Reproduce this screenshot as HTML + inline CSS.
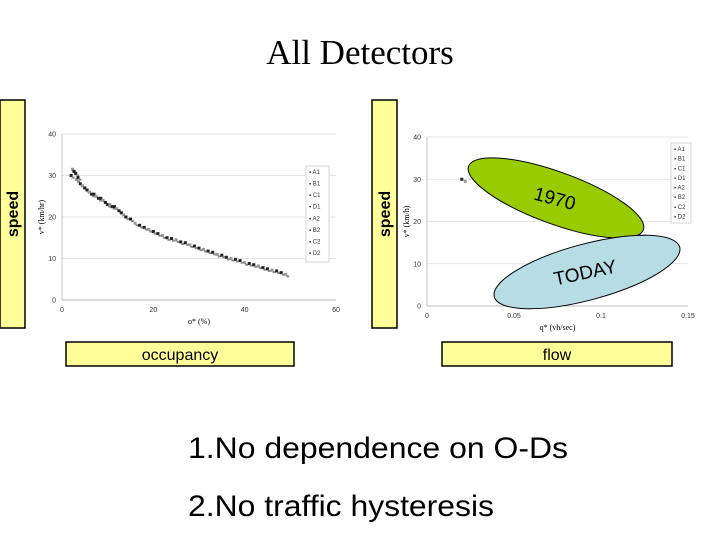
<!DOCTYPE html>
<html><head><meta charset="utf-8"><style>
body{margin:0;background:#fff;}
svg{display:block;font-family:"Liberation Sans",sans-serif;}
</style></head><body>
<svg id="s" width="720" height="540" viewBox="0 0 720 540">
<text x="360" y="64" text-anchor="middle" font-family="Liberation Serif" font-size="35">All Detectors</text>

<g>
<rect x="0" y="100" width="25" height="228" fill="#ffff99" stroke="#000" stroke-width="1.5"/>
<text transform="translate(18,214) rotate(-90)" text-anchor="middle" font-size="16" font-weight="bold">speed</text></g>
<g>
<rect x="372" y="100" width="25" height="228" fill="#ffff99" stroke="#000" stroke-width="1.5"/>
<text transform="translate(390,214) rotate(-90)" text-anchor="middle" font-size="16" font-weight="bold">speed</text></g>
<g>
<rect x="66" y="342" width="228" height="24" fill="#ffff99" stroke="#000" stroke-width="1.5"/>
<text x="180" y="360" text-anchor="middle" font-size="16">occupancy</text></g>
<g>
<rect x="442" y="342" width="230" height="24" fill="#ffff99" stroke="#000" stroke-width="1.5"/>
<text x="557" y="360" text-anchor="middle" font-size="16">flow</text></g>

<g id="left"></g>
<g id="right"></g>

<text x="188" y="458" font-size="30" textLength="380" lengthAdjust="spacingAndGlyphs">1.No dependence on O-Ds</text>
<text x="188" y="516" font-size="30" textLength="306" lengthAdjust="spacingAndGlyphs">2.No traffic hysteresis</text>
</svg>
<script>
const leftOcc=[2,2.3,2.6,3,3.2,3.5,4,4.5,5,5.5,6,6.5,7,7.5,8,8.5,9,9.5,10,10.5,11,11.5,12,12.5,13,13.5,14,15,16,17,18,19,20,21,22,23,24,25,26,27,28,29,30,31,32,33,34,35,36,37,38,39,40,41,42,43,44,45,46,47,48,49];
const leftSpd=[30,31.5,31,30.5,29,29.5,28,27.5,27,26.5,26,25.5,25.5,25,24.5,24.5,24,23.5,23,23,22.5,22.5,22,21.5,21,20.5,20,19.5,18.5,18,17.5,17,16.5,16,15.5,15,14.8,14.5,14,13.8,13.3,13,12.5,12.2,11.8,11.5,11,10.8,10.3,10,9.8,9.5,9,8.8,8.5,8.2,7.8,7.5,7.2,7,6.6,6.2];
const leftXTicks=[0,20,40,60];
const leftYTicks=[0,10,20,30,40];
const rightFlow=[0.02,0.022,0.118,0.12,0.122,0.124,0.125,0.127,0.128,0.13,0.132,0.134,0.136];
const rightSpd=[30,29.5,17,16.5,16.8,16,16.5,15.8,16.2,15.5,15.8,15.2,15];
const rightXTicks=[0,0.05,0.1,0.15];
const rightYTicks=[0,10,20,30,40];
const legendNames=["A1","B1","C1","D1","A2","B2","C2","D2"];
const NS="http://www.w3.org/2000/svg";
function mk(p,t,a){const e=document.createElementNS(NS,t);for(const k in a)e.setAttribute(k,a[k]);p.appendChild(e);return e;}

function chart(g,o){
  const xs=v=>o.x0+(v-o.xmin)/(o.xmax-o.xmin)*(o.x1-o.x0);
  const ys=v=>o.y0-(v)/(40)*(o.y0-o.y1);
  o.yt.forEach(t=>{
    const l=mk(g,'line',{x1:o.x0,x2:o.x1,y1:ys(t),y2:ys(t),stroke:'#ddd','stroke-width':0.7});
    
    
    const tx=mk(g,'text',{x:o.x0-6,y:ys(t)+2.5,'text-anchor':'end','font-size':7,fill:'#333'});tx.textContent=t;
    
    
  });
  o.xt.forEach(t=>{
    const tx=mk(g,'text',{x:xs(t),y:o.y0+12,'text-anchor':'middle','font-size':7,fill:'#333'});tx.textContent=t;
    
    
  });
  mk(g,'line',{x1:o.x0,x2:o.x0,y1:o.y1,y2:o.y0,stroke:'#aaa','stroke-width':0.7});
  mk(g,'line',{x1:o.x0,x2:o.x1,y1:o.y0,y2:o.y0,stroke:'#aaa','stroke-width':0.7});
  const xl=mk(g,'text',{x:(o.x0+o.x1)/2,y:o.y0+24,'text-anchor':'middle','font-size':8,'font-family':'Liberation Serif'});xl.textContent=o.xl;
  
  
  const yl=mk(g,'text',{transform:`translate(${o.x0-18},${(o.y0+o.y1)/2}) rotate(-90)`,'text-anchor':'middle','font-size':8,'font-family':'Liberation Serif'});yl.textContent=o.yl;
  
  
  o.xs.forEach((v,i)=>{
    const p=mk(g,'rect',{x:xs(v)-1.5,y:ys(o.ys[i])-1.5,width:3,height:3,fill:i%3==1?'#999':'#222'});
    
    
    if(o.dense){const p2=mk(g,'rect',{x:xs(v)+0.5,y:ys(o.ys[i]-0.5)-1,width:3,height:2,fill:'#888'});
    
    }
  });
  const lg=mk(g,'g',{});
  
  
  mk(lg,'rect',{x:o.lx,y:o.ly,width:o.lw,height:o.lh,fill:'#fff',stroke:'#bbb','stroke-width':0.6});
  legendNames.forEach((n,i)=>{
    const t=mk(lg,'text',{x:o.lx+3,y:o.ly+8+i*o.lh/8.3,'font-size':6,fill:'#333'});t.textContent='▪ '+n;
    
    
  });
}
chart(document.getElementById('left'),{x0:62,x1:336,y0:300,y1:134,xmin:0,xmax:60,xt:leftXTicks,yt:leftYTicks,xs:leftOcc,ys:leftSpd,xl:'o* (%)',yl:'v* (km/hr)',lx:306,ly:166,lw:23,lh:96,dense:true});
chart(document.getElementById('right'),{x0:427,x1:688,y0:306,y1:137,xmin:0,xmax:0.15,xt:rightXTicks,yt:rightYTicks,xs:rightFlow,ys:rightSpd,xl:'q* (vh/sec)',yl:'v* (km/h)',lx:671,ly:143,lw:20,lh:80,dense:false});
const R=document.getElementById('right');
const e1=mk(R,'ellipse',{cx:556,cy:198,rx:93,ry:26,transform:'rotate(20 556 198)',fill:'#99cc00',stroke:'#000','stroke-width':1});


const t1=mk(R,'text',{x:555,y:205,'text-anchor':'middle','font-size':19,transform:'rotate(15 555 198)'});t1.textContent='1970';


const e2=mk(R,'ellipse',{cx:587,cy:272,rx:96,ry:28,transform:'rotate(-15 587 272)',fill:'#b7dde4',stroke:'#000','stroke-width':1});


const t2=mk(R,'text',{x:585,y:279,'text-anchor':'middle','font-size':19,transform:'rotate(-12 585 272)'});t2.textContent='TODAY';


</script>
</body></html>
